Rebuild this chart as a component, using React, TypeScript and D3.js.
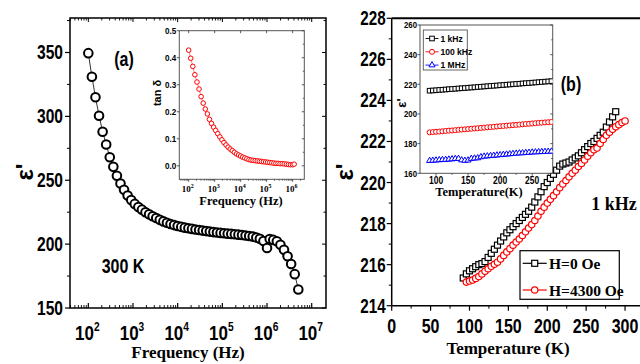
import React from 'react';
import * as d3 from 'd3';

// ---------- Data ----------
// Panel (a): eps' vs frequency (log10 of Hz)
const freqExpA = [2.00, 2.08, 2.16, 2.24, 2.32, 2.40, 2.48, 2.56, 2.64, 2.72, 2.80, 2.88, 2.96, 3.04, 3.12, 3.20, 3.28, 3.36, 3.44, 3.52, 3.60, 3.68, 3.76, 3.84, 3.92, 4.00, 4.08, 4.16, 4.24, 4.32, 4.40, 4.48, 4.56, 4.64, 4.72, 4.80, 4.88, 4.96, 5.04, 5.12, 5.20, 5.28, 5.36, 5.44, 5.52, 5.60, 5.68, 5.76, 5.84, 5.92, 6.00, 6.06, 6.14, 6.22, 6.30, 6.38, 6.46, 6.54, 6.62, 6.70];
const epsA = [349.5, 331, 315, 300.5, 288, 278, 268, 260.5, 253.5, 247.5, 242.5, 238, 234.5, 231.5, 229, 227, 225, 223.3, 221.8, 220.4, 219, 217.8, 216.7, 215.7, 214.9, 214.2, 213.5, 212.9, 212.4, 211.9, 211.4, 211.0, 210.6, 210.2, 209.8, 209.4, 209.1, 208.8, 208.5, 208.2, 208.0, 207.7, 207.4, 207.1, 206.8, 206.4, 205.9, 205.2, 204.2, 202.5, 197, 204, 203.3, 202.2, 199.5, 195.5, 190.5, 184.5, 176.5, 164.5];
// Inset (a): tan delta
const freqExpInset = [2.00, 2.08, 2.16, 2.24, 2.32, 2.40, 2.48, 2.56, 2.64, 2.72, 2.80, 2.88, 2.96, 3.04, 3.12, 3.20, 3.28, 3.36, 3.44, 3.52, 3.60, 3.68, 3.76, 3.84, 3.92, 4.00, 4.08, 4.16, 4.24, 4.32, 4.40, 4.48, 4.56, 4.64, 4.72, 4.80, 4.88, 4.96, 5.04, 5.12, 5.20, 5.28, 5.36, 5.44, 5.52, 5.60, 5.68, 5.76, 5.84, 5.92, 6.00, 6.06];
const tanDelta = [0.428, 0.398, 0.368, 0.337, 0.310, 0.284, 0.256, 0.232, 0.210, 0.192, 0.172, 0.157, 0.143, 0.131, 0.119, 0.107, 0.096, 0.086, 0.077, 0.069, 0.062, 0.056, 0.050, 0.044, 0.040, 0.036, 0.032, 0.029, 0.026, 0.023, 0.021, 0.020, 0.019, 0.018, 0.017, 0.016, 0.015, 0.014, 0.013, 0.012, 0.011, 0.010, 0.009, 0.009, 0.008, 0.008, 0.007, 0.006, 0.005, 0.004, 0.004, 0.006];

// Panel (b): eps' vs temperature at 1 kHz
const tempH0 = [92, 96, 100, 104, 108, 112, 116, 120, 124, 128, 132, 136, 140, 144, 148, 152, 156, 160, 164, 168, 172, 176, 180, 184, 188, 192, 196, 200, 204, 208, 212, 216, 220, 224, 228, 232, 236, 240, 244, 248, 252, 256, 260, 264, 268, 272, 276, 280, 284, 288];
const epsH0 = [215.35, 215.55, 215.7, 215.8, 215.9, 216.0, 216.05, 216.15, 216.35, 216.55, 216.75, 216.95, 217.15, 217.35, 217.55, 217.7, 217.85, 218.0, 218.15, 218.3, 218.45, 218.6, 218.8, 219.05, 219.3, 219.55, 219.8, 220.0, 220.2, 220.4, 220.6, 220.8, 220.9, 220.95, 221.0, 221.1, 221.2, 221.3, 221.45, 221.6, 221.75, 221.9, 222.0, 222.15, 222.3, 222.45, 222.7, 222.95, 223.2, 223.45];
const tempH4300 = [96, 100, 104, 108, 112, 116, 120, 124, 128, 132, 136, 140, 144, 148, 152, 156, 160, 164, 168, 172, 176, 180, 184, 188, 192, 196, 200, 204, 208, 212, 216, 220, 224, 228, 232, 236, 240, 244, 248, 252, 256, 260, 264, 268, 272, 276, 280, 284, 288, 292, 296, 300];
const epsH4300 = [215.15, 215.2, 215.25, 215.33, 215.42, 215.55, 215.68, 215.8, 215.92, 216.02, 216.12, 216.28, 216.45, 216.62, 216.78, 216.95, 217.1, 217.25, 217.42, 217.6, 217.78, 217.95, 218.15, 218.37, 218.6, 218.8, 219.0, 219.18, 219.36, 219.55, 219.75, 219.93, 220.1, 220.28, 220.45, 220.6, 220.78, 220.93, 221.1, 221.28, 221.45, 221.6, 221.68, 221.9, 222.1, 222.3, 222.45, 222.6, 222.72, 222.82, 222.92, 223.0];

// Inset (b)
const tempInset = [90, 95, 100, 105, 110, 115, 120, 125, 130, 135, 140, 145, 150, 155, 160, 165, 170, 175, 180, 185, 190, 195, 200, 205, 210, 215, 220, 225, 230, 235, 240, 245, 250, 255, 260, 265, 270, 275, 280];
const eps1k = [215.7, 215.85, 216.0, 216.2, 216.35, 216.5, 216.7, 216.85, 217.0, 217.2, 217.35, 217.5, 217.7, 217.85, 218.0, 218.2, 218.35, 218.55, 218.7, 218.9, 219.05, 219.2, 219.4, 219.55, 219.75, 219.9, 220.05, 220.25, 220.4, 220.6, 220.75, 220.9, 221.1, 221.25, 221.45, 221.6, 221.8, 221.95, 222.15];
const eps100k = [187.6, 187.8, 188.0, 188.15, 188.35, 188.55, 188.75, 188.9, 189.1, 189.3, 189.5, 189.65, 189.85, 190.05, 190.25, 190.4, 190.6, 190.8, 191.0, 191.15, 191.35, 191.55, 191.75, 191.9, 192.1, 192.3, 192.5, 192.65, 192.85, 193.05, 193.25, 193.4, 193.6, 193.8, 194.0, 194.15, 194.3, 194.45, 194.6];
const eps1M = [168.5, 168.6, 168.8, 169.0, 169.1, 169.2, 169.4, 169.6, 169.8, 169.9, 168.9, 168.6, 168.8, 169.9, 170.1, 170.3, 171.0, 171.4, 171.6, 171.8, 172.0, 172.2, 172.4, 172.6, 172.8, 173.0, 173.2, 173.4, 173.6, 173.7, 173.9, 174.0, 174.2, 174.3, 174.4, 174.5, 174.6, 174.7, 174.8];

// Tick labels
const yTicksA = [150, 200, 250, 300, 350];
const xDecadesA = [2, 3, 4, 5, 6, 7];
const yTicksInsetA = [0.0, 0.1, 0.2, 0.3, 0.4, 0.5];
const xDecadesInsetA = [2, 3, 4, 5, 6];
const yTicksB = [214, 216, 218, 220, 222, 224, 226, 228];
const xTicksB = [0, 50, 100, 150, 200, 250, 300];
const yTicksInsetB = [160, 180, 200, 220, 240, 260];
const xTicksInsetB = [100, 150, 200, 250];
const insetBLegend = ['1 kHz', '100 kHz', '1 MHz'];
const mainBLegend = ['H=0 Oe', 'H=4300 Oe'];

const SANS = "'Liberation Sans', Arial, sans-serif";
const SERIF = "'Liberation Serif', 'Times New Roman', serif";

const zip = (xs: number[], ys: number[]) => xs.slice(0, Math.min(xs.length, ys.length)).map((x, i) => [x, ys[i]] as [number, number]);

function logMinors(lo: number, hi: number) {
  const out: number[] = [];
  for (let e = lo; e <= hi; e++) for (let m = 2; m <= 9; m++) out.push(m * Math.pow(10, e));
  return out;
}

// condensed bold sans text
function NT(props: { x: number; y: number; size: number; anchor?: string; sx?: number; children: React.ReactNode; rotate?: number }) {
  const { x, y, size, anchor = 'start', sx = 0.8, children, rotate = 0 } = props;
  return (
    <text
      transform={`translate(${x},${y}) rotate(${rotate}) scale(${sx},1)`}
      textAnchor={anchor as any}
      fontFamily={SANS}
      fontWeight="bold"
      fontSize={size}
    >
      {children}
    </text>
  );
}

export default function App() {
  // ---------- Panel (a) scales ----------
  const xA = d3.scaleLog().domain([Math.pow(10, 1.59), Math.pow(10, 7.32)]).range([70, 326]);
  const yA = d3.scaleLinear().domain([150, 377]).range([308, 18]);
  const xIA = d3.scaleLog().domain([Math.pow(10, 1.64), Math.pow(10, 6.45)]).range([179.3, 304.3]);
  const yIA = d3.scaleLinear().domain([-0.05, 0.5]).range([179.3, 30.7]);

  // ---------- Panel (b) scales ----------
  const xB = d3.scaleLinear().domain([0, 320]).range([391.7, 640.6]);
  const yB = d3.scaleLinear().domain([214, 228]).range([305.7, 18.3]);
  const xIB = d3.scaleLinear().domain([75, 282]).range([420, 552.7]);
  const yIB = d3.scaleLinear().domain([160, 260]).range([173.3, 25]);

  const dataA = zip(freqExpA, epsA).map(([e, v]) => [Math.pow(10, e), v] as [number, number]);
  const dataIA = zip(freqExpInset, tanDelta).map(([e, v]) => [Math.pow(10, e), v] as [number, number]);
  const lineA = d3.line<[number, number]>().x(d => xA(d[0])).y(d => yA(d[1]));
  const lineIA = d3.line<[number, number]>().x(d => xIA(d[0])).y(d => yIA(d[1]));
  const dH0 = zip(tempH0, epsH0);
  const dH43 = zip(tempH4300, epsH4300);
  const lineB = d3.line<[number, number]>().x(d => xB(d[0])).y(d => yB(d[1]));
  const lineIB = d3.line<[number, number]>().x(d => xIB(d[0])).y(d => yIB(d[1]));
  const d1k = zip(tempInset, eps1k);
  const d100k = zip(tempInset, eps100k);
  const d1M = zip(tempInset, eps1M);
  const tri = d3.symbol(d3.symbolTriangle, 16)() as string;

  const minorsA = logMinors(1, 6).filter(v => v >= xA.domain()[0] && v <= xA.domain()[1]);
  const minorsIA = logMinors(1, 6).filter(v => v >= xIA.domain()[0] && v <= xIA.domain()[1]);
  const yMinorA = [175, 225, 275, 325, 375];
  const yMinorIA = [0.05, 0.15, 0.25, 0.35, 0.45];
  const yMinorB = [215, 217, 219, 221, 223, 225, 227];
  const xMinorB = [25, 75, 125, 175, 225, 275];
  const yMinorIB = [170, 190, 210, 230, 250];
  const xMinorIB = [125, 175, 225, 275];

  const [xa0, xa1] = xA.range();
  const [ya0, ya1] = yA.range();
  const [xi0, xi1] = xIA.range();
  const [yi0, yi1] = yIA.range();
  const [xb0] = xB.range();
  const [yb0, yb1] = yB.range();
  const [xj0, xj1] = xIB.range();
  const [yj0, yj1] = yIB.range();

  return (
    <svg width={640} height={364} style={{ position: 'absolute', left: 0, top: 0, background: '#fff' }}>
      <rect x={0} y={0} width={640} height={364} fill="#fff" />
      {/* ================= Panel (a) ================= */}
      <rect x={xa0} y={ya1} width={xa1 - xa0} height={ya0 - ya1} fill="none" stroke="#000" strokeWidth={1.5} />
      {yTicksA.map(t => (
        <g key={'ya' + t}>
          <line x1={xa0 - 5} x2={xa0} y1={yA(t)} y2={yA(t)} stroke="#000" strokeWidth={1.2} />
          <line x1={xa1 - 4} x2={xa1} y1={yA(t)} y2={yA(t)} stroke="#000" strokeWidth={1} />
          <NT x={xa0 - 7} y={yA(t) + 7} size={19.5} anchor="end" sx={0.8}>{t}</NT>
        </g>
      ))}
      {yMinorA.filter(t => yA(t) > ya1).map(t => (
        <g key={'yam' + t}>
          <line x1={xa0 - 3} x2={xa0} y1={yA(t)} y2={yA(t)} stroke="#000" strokeWidth={1} />
          <line x1={xa1 - 2.5} x2={xa1} y1={yA(t)} y2={yA(t)} stroke="#000" strokeWidth={1} />
        </g>
      ))}
      {xDecadesA.map(e => {
        const x = xA(Math.pow(10, e));
        return (
          <g key={'xa' + e}>
            <line x1={x} x2={x} y1={ya0} y2={ya0 - 5} stroke="#000" strokeWidth={1.2} />
            <line x1={x} x2={x} y1={ya1} y2={ya1 + 4} stroke="#000" strokeWidth={1} />
            <NT x={x - 1} y={340} size={20} anchor="middle" sx={0.85}>
              10<tspan dy={-9} fontSize={12}>{e}</tspan>
            </NT>
          </g>
        );
      })}
      {minorsA.map(v => (
        <g key={'xam' + v}>
          <line x1={xA(v)} x2={xA(v)} y1={ya0} y2={ya0 - 3} stroke="#000" strokeWidth={0.9} />
          <line x1={xA(v)} x2={xA(v)} y1={ya1} y2={ya1 + 2.5} stroke="#000" strokeWidth={0.9} />
        </g>
      ))}
      <path d={lineA(dataA) || ''} fill="none" stroke="#000" strokeWidth={0.8} />
      {dataA.map((d, i) => (
        <circle key={'ca' + i} cx={xA(d[0])} cy={yA(d[1])} r={4.3} fill="#fff" stroke="#000" strokeWidth={2} />
      ))}
      <NT x={124} y={66} size={20} anchor="middle">(a)</NT>
      <NT x={123} y={273} size={20} anchor="middle">300 K</NT>
      <text x={188} y={358} textAnchor="middle" fontFamily={SERIF} fontWeight="bold" fontSize={17}>Frequency (Hz)</text>
      <text transform="translate(33,172) rotate(-90)" textAnchor="middle" fontFamily={SANS} fontWeight="bold" fontSize={24}>ε'</text>

      {/* ----- Inset (a) ----- */}
      <rect x={xi0} y={yi1} width={xi1 - xi0} height={yi0 - yi1} fill="#fff" stroke="#555" strokeWidth={1} />
      {yTicksInsetA.map(t => (
        <g key={'yia' + t}>
          <line x1={xi0 - 2.5} x2={xi0} y1={yIA(t)} y2={yIA(t)} stroke="#333" strokeWidth={0.8} />
          <line x1={xi1 - 2.5} x2={xi1} y1={yIA(t)} y2={yIA(t)} stroke="#333" strokeWidth={0.8} />
          <NT x={xi0 - 3} y={yIA(t) + 3.3} size={9.5} anchor="end" sx={0.85}>{t.toFixed(1)}</NT>
        </g>
      ))}
      {yMinorIA.map(t => (
        <line key={'yiam' + t} x1={xi1 - 1.5} x2={xi1} y1={yIA(t)} y2={yIA(t)} stroke="#333" strokeWidth={0.8} />
      ))}
      {xDecadesInsetA.map(e => {
        const x = xIA(Math.pow(10, e));
        return (
          <g key={'xia' + e}>
            <line x1={x} x2={x} y1={yi0} y2={yi0 + 2.5} stroke="#333" strokeWidth={0.8} />
            <line x1={x} x2={x} y1={yi1} y2={yi1 + 2.5} stroke="#333" strokeWidth={0.8} />
            <text x={x - 1} y={192} textAnchor="middle" fontFamily={SERIF} fontWeight="bold" fontSize={9}>
              10<tspan dy={-4} fontSize={6}>{e}</tspan>
            </text>
          </g>
        );
      })}
      {minorsIA.map(v => (
        <line key={'xiam' + v} x1={xIA(v)} x2={xIA(v)} y1={yi0} y2={yi0 + 1.5} stroke="#333" strokeWidth={0.7} />
      ))}
      <path d={lineIA(dataIA) || ''} fill="none" stroke="#e00" strokeWidth={0.5} />
      {dataIA.map((d, i) => (
        <circle key={'cia' + i} cx={xIA(d[0])} cy={yIA(d[1])} r={2.3} fill="#fff" stroke="#f00" strokeWidth={1} />
      ))}
      <text x={241} y={205} textAnchor="middle" fontFamily={SERIF} fontWeight="bold" fontSize={12.5}>Frequency (Hz)</text>
      <text transform="translate(161,93) rotate(-90)" textAnchor="middle" fontFamily={SANS} fontWeight="bold" fontSize={11}>tan δ</text>

      {/* ================= Panel (b) ================= */}
      <line x1={xb0} x2={640} y1={yb1} y2={yb1} stroke="#000" strokeWidth={2} />
      <line x1={xb0} x2={xb0} y1={yb1} y2={yb0} stroke="#000" strokeWidth={1.5} />
      <line x1={xb0} x2={640} y1={yb0} y2={yb0} stroke="#000" strokeWidth={1.5} />
      {yTicksB.map(t => (
        <g key={'yb' + t}>
          <line x1={xb0 - 5} x2={xb0} y1={yB(t)} y2={yB(t)} stroke="#000" strokeWidth={1.2} />
          <NT x={xb0 - 6} y={yB(t) + 7} size={19.5} anchor="end" sx={0.78}>{t}</NT>
        </g>
      ))}
      {yMinorB.map(t => (
        <line key={'ybm' + t} x1={xb0 - 3} x2={xb0} y1={yB(t)} y2={yB(t)} stroke="#000" strokeWidth={1} />
      ))}
      {xTicksB.map(t => (
        <g key={'xb' + t}>
          <line x1={xB(t)} x2={xB(t)} y1={yb0} y2={yb0 + 5} stroke="#000" strokeWidth={1.2} />
          <NT x={xB(t)} y={333} size={19.5} anchor="middle" sx={0.82}>{t}</NT>
        </g>
      ))}
      {xMinorB.map(t => (
        <line key={'xbm' + t} x1={xB(t)} x2={xB(t)} y1={yb0} y2={yb0 + 3} stroke="#000" strokeWidth={1} />
      ))}
      <path d={lineB(dH0) || ''} fill="none" stroke="#000" strokeWidth={1} />
      {dH0.map((d, i) => (
        <rect key={'sq' + i} x={xB(d[0]) - 3} y={yB(d[1]) - 3} width={6} height={6} fill="#fff" stroke="#000" strokeWidth={1.2} />
      ))}
      <path d={lineB(dH43) || ''} fill="none" stroke="#f00" strokeWidth={1} />
      {dH43.map((d, i) => (
        <circle key={'rc' + i} cx={xB(d[0])} cy={yB(d[1])} r={3.2} fill="#fff" stroke="#f00" strokeWidth={1.2} />
      ))}
      <NT x={571} y={91} size={20} anchor="middle">(b)</NT>
      <text x={614} y={210} textAnchor="middle" fontFamily={SERIF} fontWeight="bold" fontSize={18}>1 kHz</text>
      <text x={508} y={354} textAnchor="middle" fontFamily={SERIF} fontWeight="bold" fontSize={17}>Temperature (K)</text>
      <text transform="translate(353,172) rotate(-90)" textAnchor="middle" fontFamily={SANS} fontWeight="bold" fontSize={24}>ε'</text>
      <rect x={520} y={250.7} width={99.3} height={48.6} fill="#fff" stroke="#000" strokeWidth={1.2} />
      {mainBLegend.map((lab, i) => {
        const y = 263.3 + i * 26.7;
        const col = i === 0 ? '#000' : '#f00';
        return (
          <g key={'lg' + i}>
            <line x1={522.7} x2={546.7} y1={y} y2={y} stroke={col} strokeWidth={1.2} />
            {i === 0
              ? <rect x={531.7} y={y - 3} width={6} height={6} fill="#fff" stroke={col} strokeWidth={1.2} />
              : <circle cx={534.7} cy={y} r={3.2} fill="#fff" stroke={col} strokeWidth={1.2} />}
            <text x={549} y={y + 5.5} fontFamily={SERIF} fontWeight="bold" fontSize={15.5}>{lab}</text>
          </g>
        );
      })}

      {/* ----- Inset (b) ----- */}
      <rect x={xj0} y={yj1} width={xj1 - xj0} height={yj0 - yj1} fill="#fff" stroke="#555" strokeWidth={1} />
      {yTicksInsetB.map(t => (
        <g key={'yib' + t}>
          <line x1={xj0 - 2.5} x2={xj0} y1={yIB(t)} y2={yIB(t)} stroke="#333" strokeWidth={0.8} />
          <line x1={xj1 - 2.5} x2={xj1} y1={yIB(t)} y2={yIB(t)} stroke="#333" strokeWidth={0.8} />
          <NT x={xj0 - 3} y={yIB(t) + 3.3} size={9.5} anchor="end" sx={0.82}>{t}</NT>
        </g>
      ))}
      {yMinorIB.map(t => (
        <line key={'yibm' + t} x1={xj1 - 1.5} x2={xj1} y1={yIB(t)} y2={yIB(t)} stroke="#333" strokeWidth={0.8} />
      ))}
      {xTicksInsetB.map(t => (
        <g key={'xib' + t}>
          <line x1={xIB(t)} x2={xIB(t)} y1={yj0} y2={yj0 + 2.5} stroke="#333" strokeWidth={0.8} />
          <NT x={xIB(t)} y={184} size={10} anchor="middle" sx={0.85}>{t}</NT>
        </g>
      ))}
      {xMinorIB.map(t => (
        <line key={'xibm' + t} x1={xIB(t)} x2={xIB(t)} y1={yj0} y2={yj0 + 1.5} stroke="#333" strokeWidth={0.8} />
      ))}
      <defs>
        <clipPath id="clipIB">
          <rect x={xj0} y={yj1} width={xj1 - xj0} height={yj0 - yj1} />
        </clipPath>
      </defs>
      <g clipPath="url(#clipIB)">
        <path d={lineIB(d1k) || ''} fill="none" stroke="#000" strokeWidth={0.8} />
        {d1k.map((d, i) => (
          <rect key={'k' + i} x={xIB(d[0]) - 2.3} y={yIB(d[1]) - 2.3} width={4.6} height={4.6} fill="#fff" stroke="#000" strokeWidth={1} />
        ))}
        <path d={lineIB(d100k) || ''} fill="none" stroke="#f00" strokeWidth={0.8} />
        {d100k.map((d, i) => (
          <circle key={'h' + i} cx={xIB(d[0])} cy={yIB(d[1])} r={2.5} fill="#fff" stroke="#f00" strokeWidth={1} />
        ))}
        <path d={lineIB(d1M) || ''} fill="none" stroke="#00f" strokeWidth={0.8} />
        {d1M.map((d, i) => (
          <path key={'m' + i} d={tri} transform={`translate(${xIB(d[0])},${yIB(d[1])})`} fill="#fff" stroke="#00f" strokeWidth={1} />
        ))}
      </g>
      <rect x={423.3} y={30} width={44} height={40} fill="#fff" stroke="#555" strokeWidth={0.9} />
      {insetBLegend.map((lab, i) => {
        const y = 38.5 + i * 13.3;
        const col = ['#000', '#f00', '#00f'][i];
        return (
          <g key={'ilg' + i}>
            <line x1={425.5} x2={438.5} y1={y} y2={y} stroke={col} strokeWidth={0.9} />
            {i === 0 && <rect x={429.7} y={y - 2.3} width={4.6} height={4.6} fill="#fff" stroke={col} strokeWidth={1} />}
            {i === 1 && <circle cx={432} cy={y} r={2.5} fill="#fff" stroke={col} strokeWidth={1} />}
            {i === 2 && <path d={tri} transform={`translate(432,${y})`} fill="#fff" stroke={col} strokeWidth={1} />}
            <NT x={440.5} y={y + 3.3} size={9.5} sx={0.9}>{lab}</NT>
          </g>
        );
      })}
      <text x={479} y={196} textAnchor="middle" fontFamily={SERIF} fontWeight="bold" fontSize={12.5}>Temperature(K)</text>
      <text transform="translate(406,103) rotate(-90)" textAnchor="middle" fontFamily={SANS} fontWeight="bold" fontSize={13}>ε'</text>
    </svg>
  );
}
